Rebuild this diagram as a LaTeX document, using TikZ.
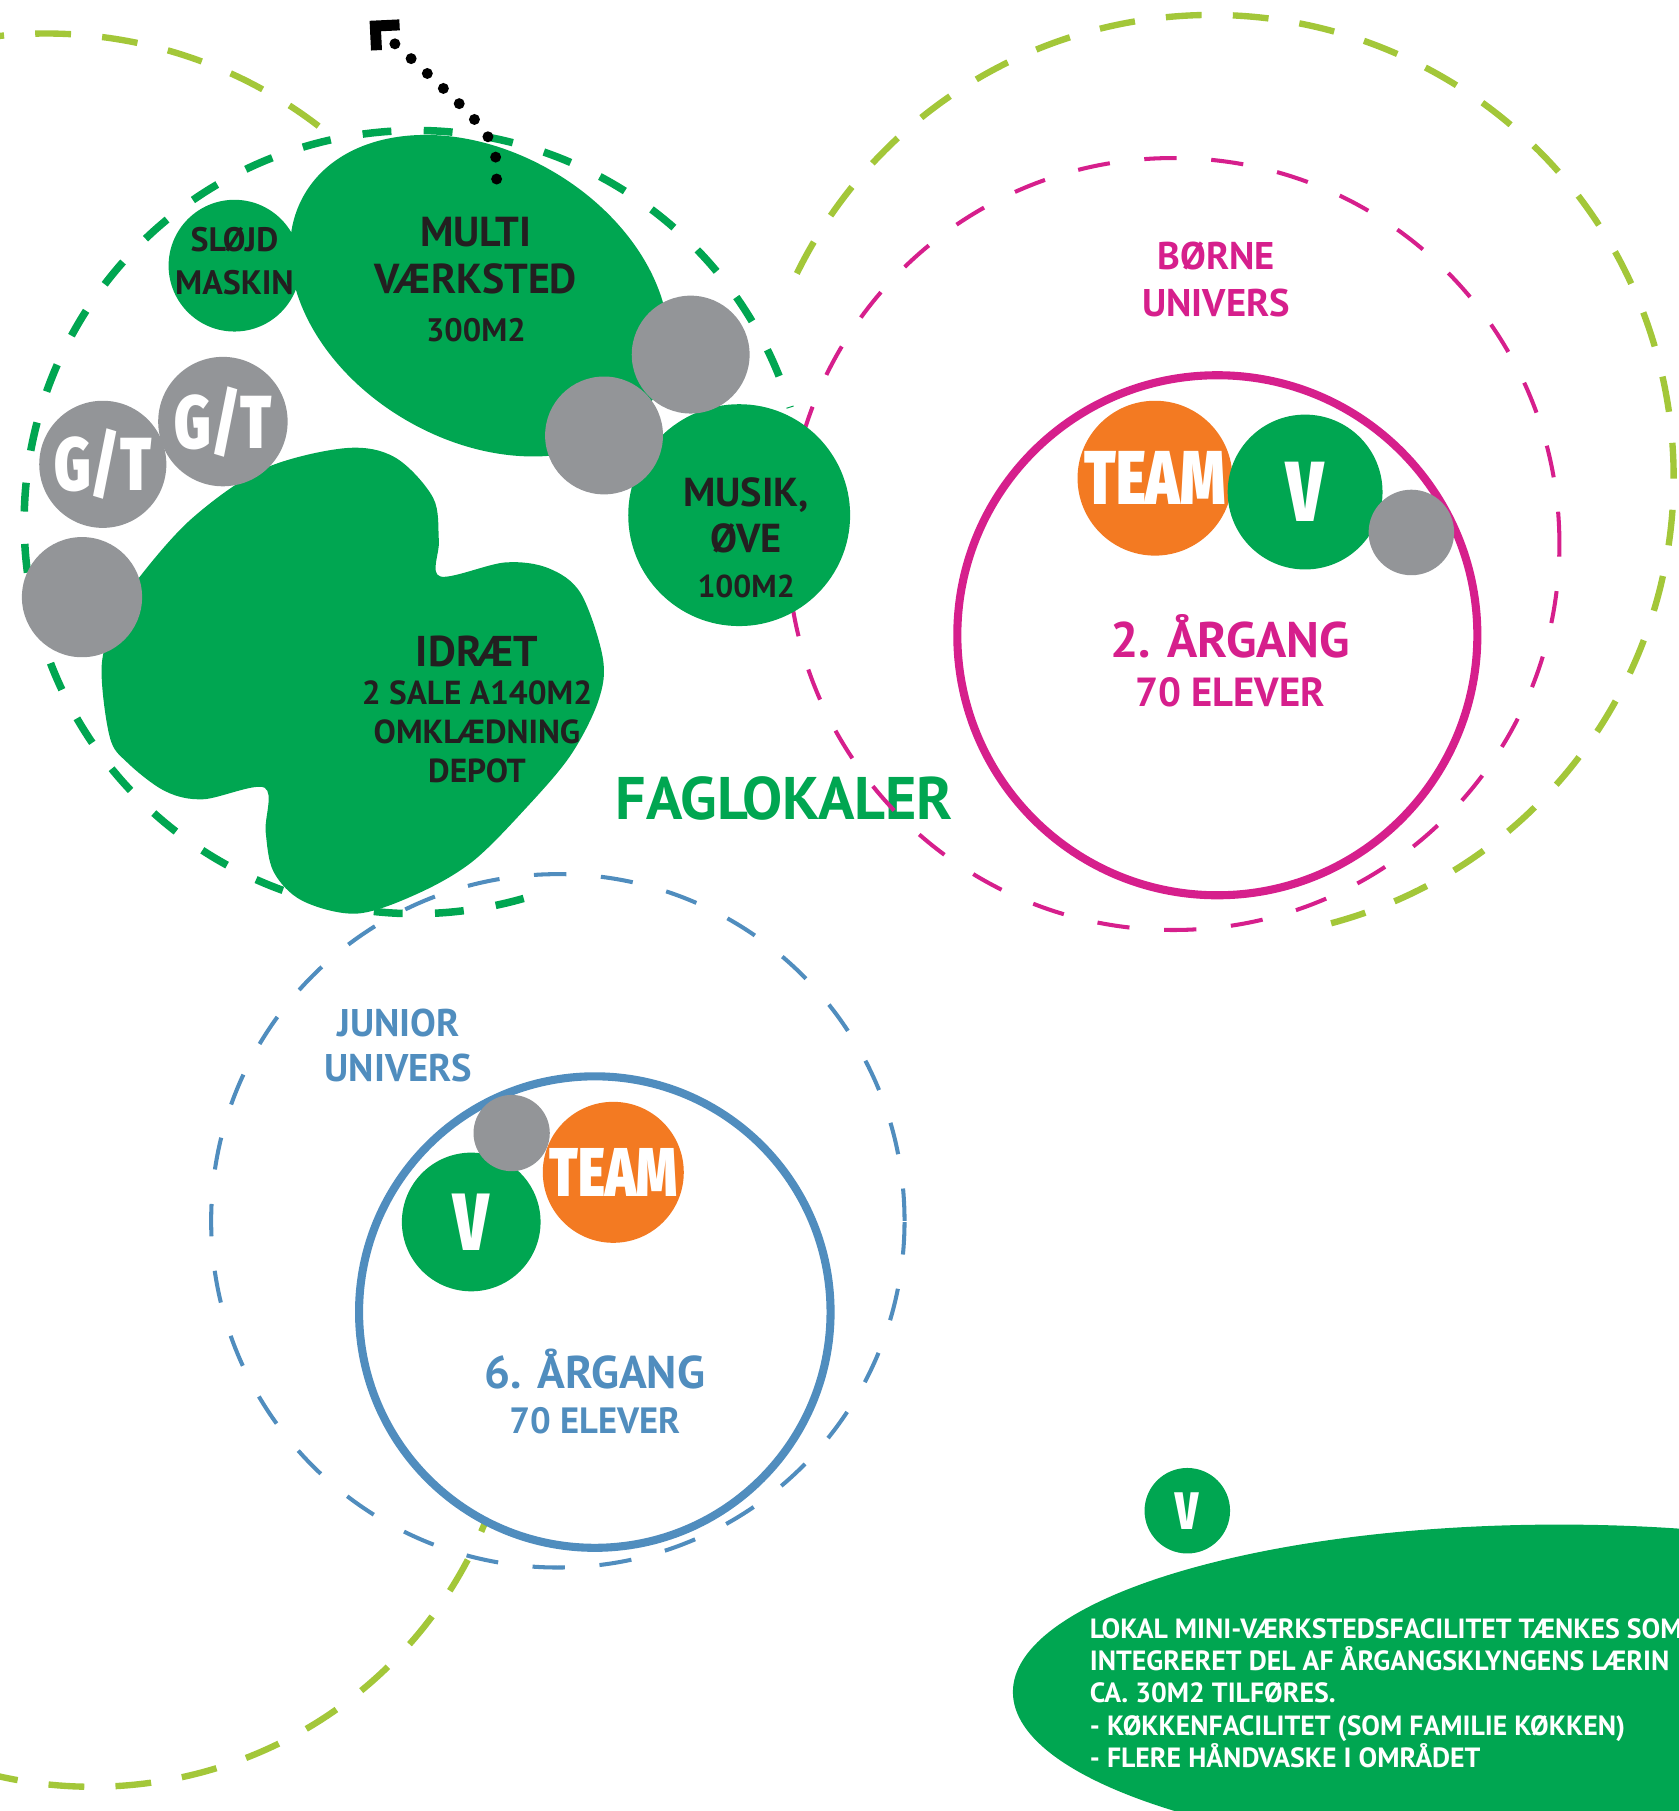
\documentclass[tikz,border=0pt]{standalone}
\usepackage{fontspec}
\setmainfont{PT Sans}
\newfontfamily\heavyfont{Fira Sans}[UprightFont={* Black},FakeStretch=0.75]
\usetikzlibrary{arrows.meta}
\definecolor{fagGreen}{HTML}{00A651}
\definecolor{lightGreen}{HTML}{A3C739}
\definecolor{borneMagenta}{HTML}{D61F8C}
\definecolor{juniorBlue}{HTML}{508DBE}
\definecolor{teamOrange}{HTML}{F37A22}
\definecolor{spotGray}{HTML}{939598}
\definecolor{textDark}{HTML}{231F20}
\newcommand{\fsize}[2]{\fontsize{#1}{#2}\selectfont}

\begin{document}
\begin{tikzpicture}[x=0.01cm,y=-0.01cm,
    room/.style={circle,fill=fagGreen,inner sep=0pt},
    roomtext/.style={text=textDark,align=center,inner sep=0pt},
    spot/.style={circle,fill=spotGray,inner sep=0pt},
    badge/.style={circle,inner sep=0pt,text=white,font=\heavyfont\fsize{18.8}{20}},
    lgring/.style={draw=lightGreen,line width=0.055cm,dash pattern=on 0.31cm off 0.27cm},
    fagring/.style={draw=fagGreen,line width=0.065cm,dash pattern=on 0.25cm off 0.28cm},
    zonering/.style={circle,inner sep=0pt,line width=0.035cm,dash pattern=on 0.28cm off 0.3cm},
    yearring/.style={circle,inner sep=0pt,line width=0.07cm,fill=white}]
  \useasboundingbox (0,0) rectangle (1453,1568);

  % outer universes
  \draw[lgring] ([shift={(-100:387)}]40,416) arc[start angle=-100,end angle=-49,radius=387];
  \draw[lgring] ([shift={(105:367)}]80,1180) arc[start angle=105,end angle=12,radius=367];
  \draw[lgring] ([shift={(75:400)}]1049,413) arc[start angle=75,end angle=-156,radius=400];

  \node[zonering,draw=juniorBlue,minimum size=6cm] (juniorzone) at (483,1057) {};
  \node[text=fagGreen,font=\bfseries\fsize{14.8}{16}] (faglokaler) at (679,691) {FAGLOKALER};
  \node[zonering,draw=borneMagenta,minimum size=6.68cm] (bornezone) at (1016,471) {};
  \draw[fagring] ([shift={(74:339)}]360,452) arc[start angle=74,end angle=343,radius=339];

  % faglokaler
  \fill[fagGreen] plot[smooth cycle,tension=0.55] coordinates {(299,388) (342,396) (375,431)
    (380,468) (381,499) (437,487) (475,492) (503,514) (522,570) (518,607) (494,654)
    (456,699) (409,746) (361,774) (309,791) (262,780) (237,755) (230,720) (229,682)
    (176,692) (143,685) (110,660) (95,638) (88,577) (100,535) (119,502) (166,449) (228,406)};
  \fill[fagGreen,rotate around={-30:(415,256)}] (415,256) ellipse[x radius=175,y radius=125];
  \node[room,minimum size=1.14cm] (slojd) at (203,230) {};
  \node[room,minimum size=1.92cm] (musik) at (640,446) {};
  \node[spot,minimum size=1.02cm] (spotA) at (598,307) {};
  \node[spot,minimum size=1.02cm] (spotB) at (523,377) {};
  \node[spot,minimum size=1.04cm] (spotC) at (71,517) {};
  \node[spot,text=white,font=\heavyfont\fsize{18.5}{20},minimum size=1.10cm] (gtA) at (89,402) {G/T};
  \node[spot,text=white,font=\heavyfont\fsize{18.5}{20},minimum size=1.12cm] (gtB) at (193,365) {G/T};

  \node[roomtext,font=\bfseries\fsize{8.35}{10.5}] (slojdtext) at (203,226) {SLØJD\\MASKIN};
  \node[roomtext,font=\bfseries\fsize{10.3}{11.6}] (multitext) at (412,242) {MULTI\\VÆRKSTED\\{\fsize{8}{11.6}300M2}};
  \node[roomtext,font=\bfseries\fsize{9.95}{11.2}] (musiktext) at (646,466) {MUSIK,\\ØVE\\{\fsize{7.8}{11.2}100M2}};
  \node[roomtext,font=\bfseries\fsize{8.2}{9.5}] (idraettext) at (413,614) {{\fsize{10.6}{9.5}IDRÆT}\\2 SALE A140M2\\OMKLÆDNING\\DEPOT};

  \coordinate (dotstart) at (430,155);
  \coordinate (dotend) at (320,18);
  \draw[line width=0.095cm,line cap=round,dash pattern=on 0pt off 0.19cm,
    -{Straight Barb[angle=90:0.21cm,line cap=butt,line join=miter]}]
    (dotstart) .. controls (430,118) .. (dotend);

  % born
  \node[yearring,draw=borneMagenta,minimum size=4.5cm] (bornering) at (1054,550) {};
  \node[text=borneMagenta,align=center,font=\bfseries\fsize{9.5}{11.4}] (bornetitle) at (1053,242) {BØRNE\\UNIVERS};
  \node[badge,fill=teamOrange,minimum size=1.34cm] (borneteam) at (1000,414) {\makebox[0pt]{TEAM}};
  \node[badge,fill=fagGreen,minimum size=1.34cm,font=\heavyfont\fsize{21}{22}] (bornev) at (1130,426) {V};
  \node[spot,minimum size=0.74cm] (bornespot) at (1222,461) {};
  \node[text=borneMagenta,align=center,font=\bfseries\fsize{10}{12}] (borneyear) at (1065,572) {{\fsize{12.3}{12}2. ÅRGANG}\\70 ELEVER};

  % junior
  \node[yearring,draw=juniorBlue,minimum size=4.08cm] (juniorring) at (515,1136) {};
  \node[text=juniorBlue,align=center,font=\bfseries\fsize{9.5}{11.1}] (juniortitle) at (345,905) {JUNIOR\\UNIVERS};
  \node[badge,fill=fagGreen,minimum size=1.2cm,font=\heavyfont\fsize{20}{22}] (juniorv) at (408,1058) {V};
  \node[badge,fill=teamOrange,minimum size=1.22cm,font=\heavyfont\fsize{17}{18}] (juniorteam) at (531,1015) {\makebox[0pt]{TEAM}};
  \node[spot,minimum size=0.66cm] (juniorspot) at (443,981) {};
  \node[text=juniorBlue,align=center,font=\bfseries\fsize{9}{11}] (junioryear) at (515,1205) {{\fsize{11.3}{11}6. ÅRGANG}\\70 ELEVER};

  % mini-vaerksted
  \fill[fagGreen] (1350,1465) ellipse[x radius=473,y radius=145];
  \node[badge,fill=fagGreen,minimum size=0.74cm,font=\heavyfont\fsize{13}{14}] (miniv) at (1028,1308) {V};
  \node[text=white,align=left,anchor=north west,inner sep=0pt,font=\bfseries\fsize{6.85}{7.9}] (minitext) at (943,1401)
    {LOKAL MINI-VÆRKSTEDSFACILITET TÆNKES SOM\\INTEGRERET DEL AF ÅRGANGSKLYNGENS LÆRIN\\CA. 30M2 TILFØRES.\\- KØKKENFACILITET (SOM FAMILIE KØKKEN)\\- FLERE HÅNDVASKE I OMRÅDET};
\end{tikzpicture}
\end{document}
